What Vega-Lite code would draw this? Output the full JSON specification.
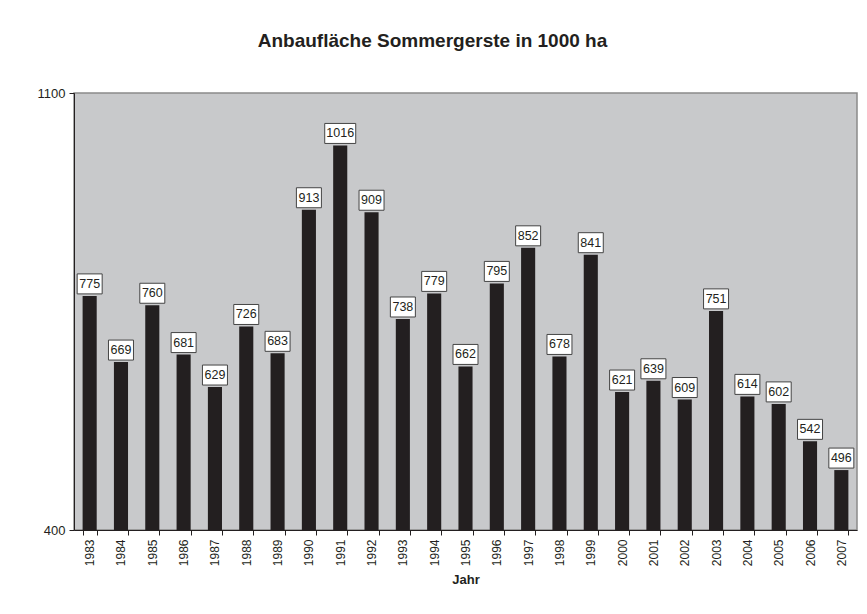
{
  "$schema": "https://vega.github.io/schema/vega-lite/v6.json",
  "width": 783,
  "height": 437,
  "autosize": {"type": "none"},
  "padding": {"left": 74, "top": 93, "right": 10, "bottom": 84},
  "background": "white",
  "config": {
    "font": "Liberation Sans",
    "view": {"fill": "#c8c9cb", "stroke": "#8a8a8a", "strokeWidth": 1.5}
  },
  "title": {
    "text": "Anbaufläche Sommergerste in 1000 ha",
    "font": "Liberation Sans",
    "fontSize": 19,
    "fontWeight": "bold",
    "color": "#231f20",
    "anchor": "middle",
    "dx": -33,
    "offset": 36
  },
  "data": {
    "values": [
      {"Jahr": "1983", "v": 775}, {"Jahr": "1984", "v": 669}, {"Jahr": "1985", "v": 760},
      {"Jahr": "1986", "v": 681}, {"Jahr": "1987", "v": 629}, {"Jahr": "1988", "v": 726},
      {"Jahr": "1989", "v": 683}, {"Jahr": "1990", "v": 913}, {"Jahr": "1991", "v": 1016},
      {"Jahr": "1992", "v": 909}, {"Jahr": "1993", "v": 738}, {"Jahr": "1994", "v": 779},
      {"Jahr": "1995", "v": 662}, {"Jahr": "1996", "v": 795}, {"Jahr": "1997", "v": 852},
      {"Jahr": "1998", "v": 678}, {"Jahr": "1999", "v": 841}, {"Jahr": "2000", "v": 621},
      {"Jahr": "2001", "v": 639}, {"Jahr": "2002", "v": 609}, {"Jahr": "2003", "v": 751},
      {"Jahr": "2004", "v": 614}, {"Jahr": "2005", "v": 602}, {"Jahr": "2006", "v": 542},
      {"Jahr": "2007", "v": 496}
    ]
  },
  "encoding": {
    "x": {
      "field": "Jahr",
      "type": "ordinal",
      "scale": {"paddingInner": 0.55, "paddingOuter": 0.275},
      "axis": {
        "title": "Jahr",
        "titleFont": "Liberation Sans",
        "titleFontSize": 13,
        "titleFontWeight": "bold",
        "titleColor": "#231f20",
        "titlePadding": 8,
        "labelAngle": -90,
        "labelFontSize": 12,
        "labelColor": "#231f20",
        "labelPadding": 4,
        "tickBand": "extent",
        "tickSize": 5,
        "tickColor": "#231f20",
        "domainColor": "#231f20",
        "grid": false
      }
    },
    "y": {
      "field": "v",
      "type": "quantitative",
      "scale": {"domain": [400, 1100], "nice": false, "zero": false},
      "axis": {
        "title": null,
        "values": [400, 1100],
        "format": "d",
        "labelFont": "Liberation Sans",
        "labelFontSize": 13,
        "labelColor": "#231f20",
        "labelPadding": 4,
        "tickSize": 5,
        "tickColor": "#231f20",
        "domainColor": "#231f20",
        "grid": false
      }
    }
  },
  "layer": [
    {
      "mark": {"type": "bar", "color": "#231f20"},
      "encoding": {
        "y2": {"datum": 400}
      }
    },
    {
      "transform": [{"filter": "datum.v < 1000"}],
      "mark": {"type": "bar", "width": 25, "fill": "white", "stroke": "#444444", "strokeWidth": 1, "yOffset": -22, "y2Offset": -2},
      "encoding": {
        "y2": {"field": "v"}
      }
    },
    {
      "transform": [{"filter": "datum.v >= 1000"}],
      "mark": {"type": "bar", "width": 31, "fill": "white", "stroke": "#444444", "strokeWidth": 1, "yOffset": -22, "y2Offset": -2},
      "encoding": {
        "y2": {"field": "v"}
      }
    },
    {
      "mark": {"type": "text", "fontSize": 12.5, "color": "#231f20", "baseline": "middle", "dy": -12},
      "encoding": {
        "text": {"field": "v", "type": "quantitative"}
      }
    }
  ]
}
